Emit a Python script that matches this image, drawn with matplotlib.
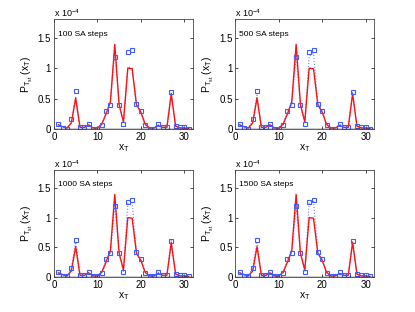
import numpy as np
import matplotlib
matplotlib.use('Agg')
import matplotlib.pyplot as plt

plt.rcParams['font.family'] = ['Liberation Sans', 'DejaVu Sans']
plt.rcParams['mathtext.fontset'] = 'custom'
plt.rcParams['mathtext.rm'] = 'Liberation Sans'
plt.rcParams['mathtext.it'] = 'Liberation Sans'

# data, in units of 1e-4
x_t = np.arange(1, 32)
target = [0.08, 0.02, 0.01, 0.16, 0.62, 0.03, 0.03, 0.08, 0.01, 0.01, 0.07,
          0.30, 0.40, 1.19, 0.40, 0.09, 1.26, 1.29, 0.42, 0.30, 0.07, 0.01,
          0.01, 0.08, 0.03, 0.03, 0.61, 0.05, 0.03, 0.03, 0.01]
exact = [0.07, 0.04, 0.02, 0.10, 0.51, 0.03, 0.03, 0.07, 0.02, 0.02, 0.08,
         0.25, 0.45, 1.39, 0.40, 0.12, 1.00, 0.99, 0.40, 0.28, 0.08, 0.02,
         0.02, 0.06, 0.03, 0.03, 0.58, 0.05, 0.02, 0.02, 0.01]
est_100 = [0.08, 0.03, 0.02, 0.12, 0.52, 0.03, 0.03, 0.07, 0.02, 0.02, 0.08,
           0.27, 0.43, 1.30, 0.40, 0.11, 1.02, 1.00, 0.41, 0.29, 0.08, 0.02,
           0.02, 0.07, 0.03, 0.03, 0.59, 0.05, 0.02, 0.02, 0.01]
est_500 = [0.08, 0.02, 0.02, 0.14, 0.56, 0.03, 0.03, 0.08, 0.01, 0.01, 0.07,
           0.29, 0.41, 1.22, 0.40, 0.10, 1.20, 1.24, 0.42, 0.30, 0.07, 0.01,
           0.01, 0.08, 0.03, 0.03, 0.60, 0.05, 0.03, 0.03, 0.01]
est_1000 = [0.08, 0.02, 0.01, 0.15, 0.59, 0.03, 0.03, 0.08, 0.01, 0.01, 0.07,
            0.30, 0.40, 1.20, 0.40, 0.09, 1.24, 1.27, 0.42, 0.30, 0.07, 0.01,
            0.01, 0.08, 0.03, 0.03, 0.61, 0.05, 0.03, 0.03, 0.01]
est_1500 = [0.08, 0.02, 0.01, 0.16, 0.60, 0.03, 0.03, 0.08, 0.01, 0.01, 0.07,
            0.30, 0.40, 1.19, 0.40, 0.09, 1.25, 1.28, 0.42, 0.30, 0.07, 0.01,
            0.01, 0.08, 0.03, 0.03, 0.61, 0.05, 0.03, 0.03, 0.01]
steps = ['100 SA steps', '500 SA steps', '1000 SA steps', '1500 SA steps']
estimates = [est_100, est_500, est_1000, est_1500]

fig = plt.figure(figsize=(4.15, 3.12), dpi=100)
positions = [[0.13, 0.586, 0.335, 0.352], [0.567, 0.586, 0.335, 0.352],
             [0.13, 0.112, 0.335, 0.343], [0.567, 0.112, 0.335, 0.343]]

for pos, label, est in zip(positions, steps, estimates):
    ax = fig.add_axes(pos)
    ax.plot(x_t, est, ':', color='#6f86ff', lw=0.8)
    ax.plot(x_t, exact, '-', color='#ff1010', lw=1.0)
    ax.plot(x_t, target, 's', mfc='none', mec='#3f5cff', ms=2.4, mew=0.8)
    ax.set_xlim(0, 32)
    ax.set_ylim(0, 1.8)
    ax.set_xticks([0, 10, 20, 30])
    ax.set_yticks([0, 0.5, 1, 1.5])
    ax.set_yticklabels(['0', '0.5', '1', '1.5'])
    ax.tick_params(direction='in', length=2, width=0.5, labelsize=7,
                   top=True, right=True, pad=2)
    for s in ax.spines.values():
        s.set_linewidth(0.6)
        s.set_color('#444444')
    ax.axhline(0, color='black', lw=1.0)
    ax.text(0.03, 0.85, label, transform=ax.transAxes, fontsize=6)
    ax.text(0.0, 1.02, r'x 10$^{-4}$', transform=ax.transAxes, fontsize=6.5)
    ax.set_xlabel(r'$\mathrm{x}_\mathrm{T}$', fontsize=7.5, labelpad=0)
    ax.set_ylabel(r'$\mathrm{P}_{\mathrm{T}_{\mathrm{st}}}\ (\mathrm{x}_\mathrm{T})$',
                  fontsize=7.5, labelpad=2)

fig.savefig('out.png', dpi=100)
